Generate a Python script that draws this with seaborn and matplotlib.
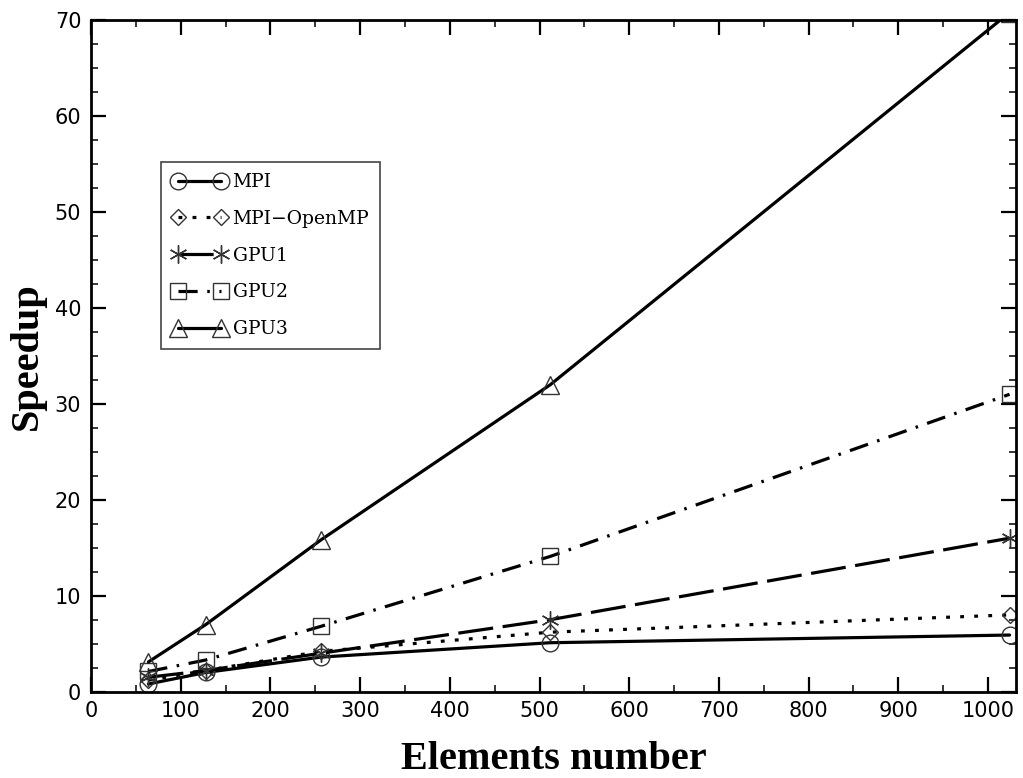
import numpy as np
import pandas as pd
import matplotlib
matplotlib.use('Agg')
import matplotlib.pyplot as plt
import seaborn as sns

## data
elements = [64, 128, 256, 512, 1024]
mpi = [0.8, 2.0, 3.6, 5.1, 5.9]
mpi_openmp = [1.2, 2.2, 4.2, 6.2, 8.0]
gpu1 = [1.5, 2.2, 4.0, 7.5, 16.0]
gpu2 = [2.1, 3.3, 6.8, 14.1, 31.0]
gpu3 = [3.1, 7.0, 15.8, 32.0, 70.8]

names = ['MPI', 'MPI\u2212OpenMP', 'GPU1', 'GPU2', 'GPU3']
series = [mpi, mpi_openmp, gpu1, gpu2, gpu3]
markers = ['o', 'D', (6, 2, 0), 's', '^']
msizes = [12, 8, 13, 11, 13]
styles = ['-', (0, (1.2, 3.2)), (0, (11, 3)), (0, (6, 3, 0.8, 3)), '-']

sns.set_style('ticks')
plt.rcParams['font.family'] = ['DejaVu Sans']
plt.rcParams['text.color'] = 'black'
plt.rcParams['xtick.color'] = 'black'
plt.rcParams['ytick.color'] = 'black'
plt.rcParams['axes.labelcolor'] = 'black'

fig = plt.figure(figsize=(10.23, 7.78), dpi=100)
ax = fig.add_axes([0.089, 0.111, 0.904, 0.863])

for name, vals, mk, ms, ls in zip(names, series, markers, msizes, styles):
    sns.lineplot(x=elements, y=vals, ax=ax, color='black', linewidth=2.3,
                 linestyle=ls, marker=mk, markersize=ms, markerfacecolor='none',
                 markeredgecolor='#333333', markeredgewidth=1.0,
                 label=name, sort=False, estimator=None, clip_on=True)

ax.set_xlim(0, 1031)
ax.set_ylim(0, 70)
ax.set_xticks(np.arange(0, 1001, 100))
ax.set_xticks(np.arange(50, 1001, 100), minor=True)
ax.set_yticks(np.arange(0, 71, 10))
ax.set_yticks(np.arange(2.5, 70, 2.5), minor=True)
ax.tick_params(which='both', direction='in', top=True, right=True, color='black')
ax.tick_params(which='major', length=11, width=1.6, labelsize=15, pad=7)
ax.tick_params(which='minor', length=5, width=1.1)
for sp in ax.spines.values():
    sp.set_linewidth(2.0)
    sp.set_color('black')

ax.set_xlabel('Elements number', fontsize=29, fontweight='bold',
              family='Liberation Serif', labelpad=14)
ax.set_ylabel('Speedup', fontsize=29, fontweight='bold',
              family='Liberation Serif', labelpad=6)

leg = ax.legend(loc='upper left', bbox_to_anchor=(0.076, 0.789), numpoints=2,
                handlelength=2.9, handletextpad=0.3, labelspacing=1.0,
                borderpad=0.6, borderaxespad=0, fancybox=False, framealpha=1,
                edgecolor='#444444', prop={'family': 'DejaVu Serif', 'size': 13.5})
leg.get_frame().set_linewidth(1.2)
for h in leg.get_lines():
    h.set_linewidth(2.3)

fig.savefig('out.png', dpi=100)
